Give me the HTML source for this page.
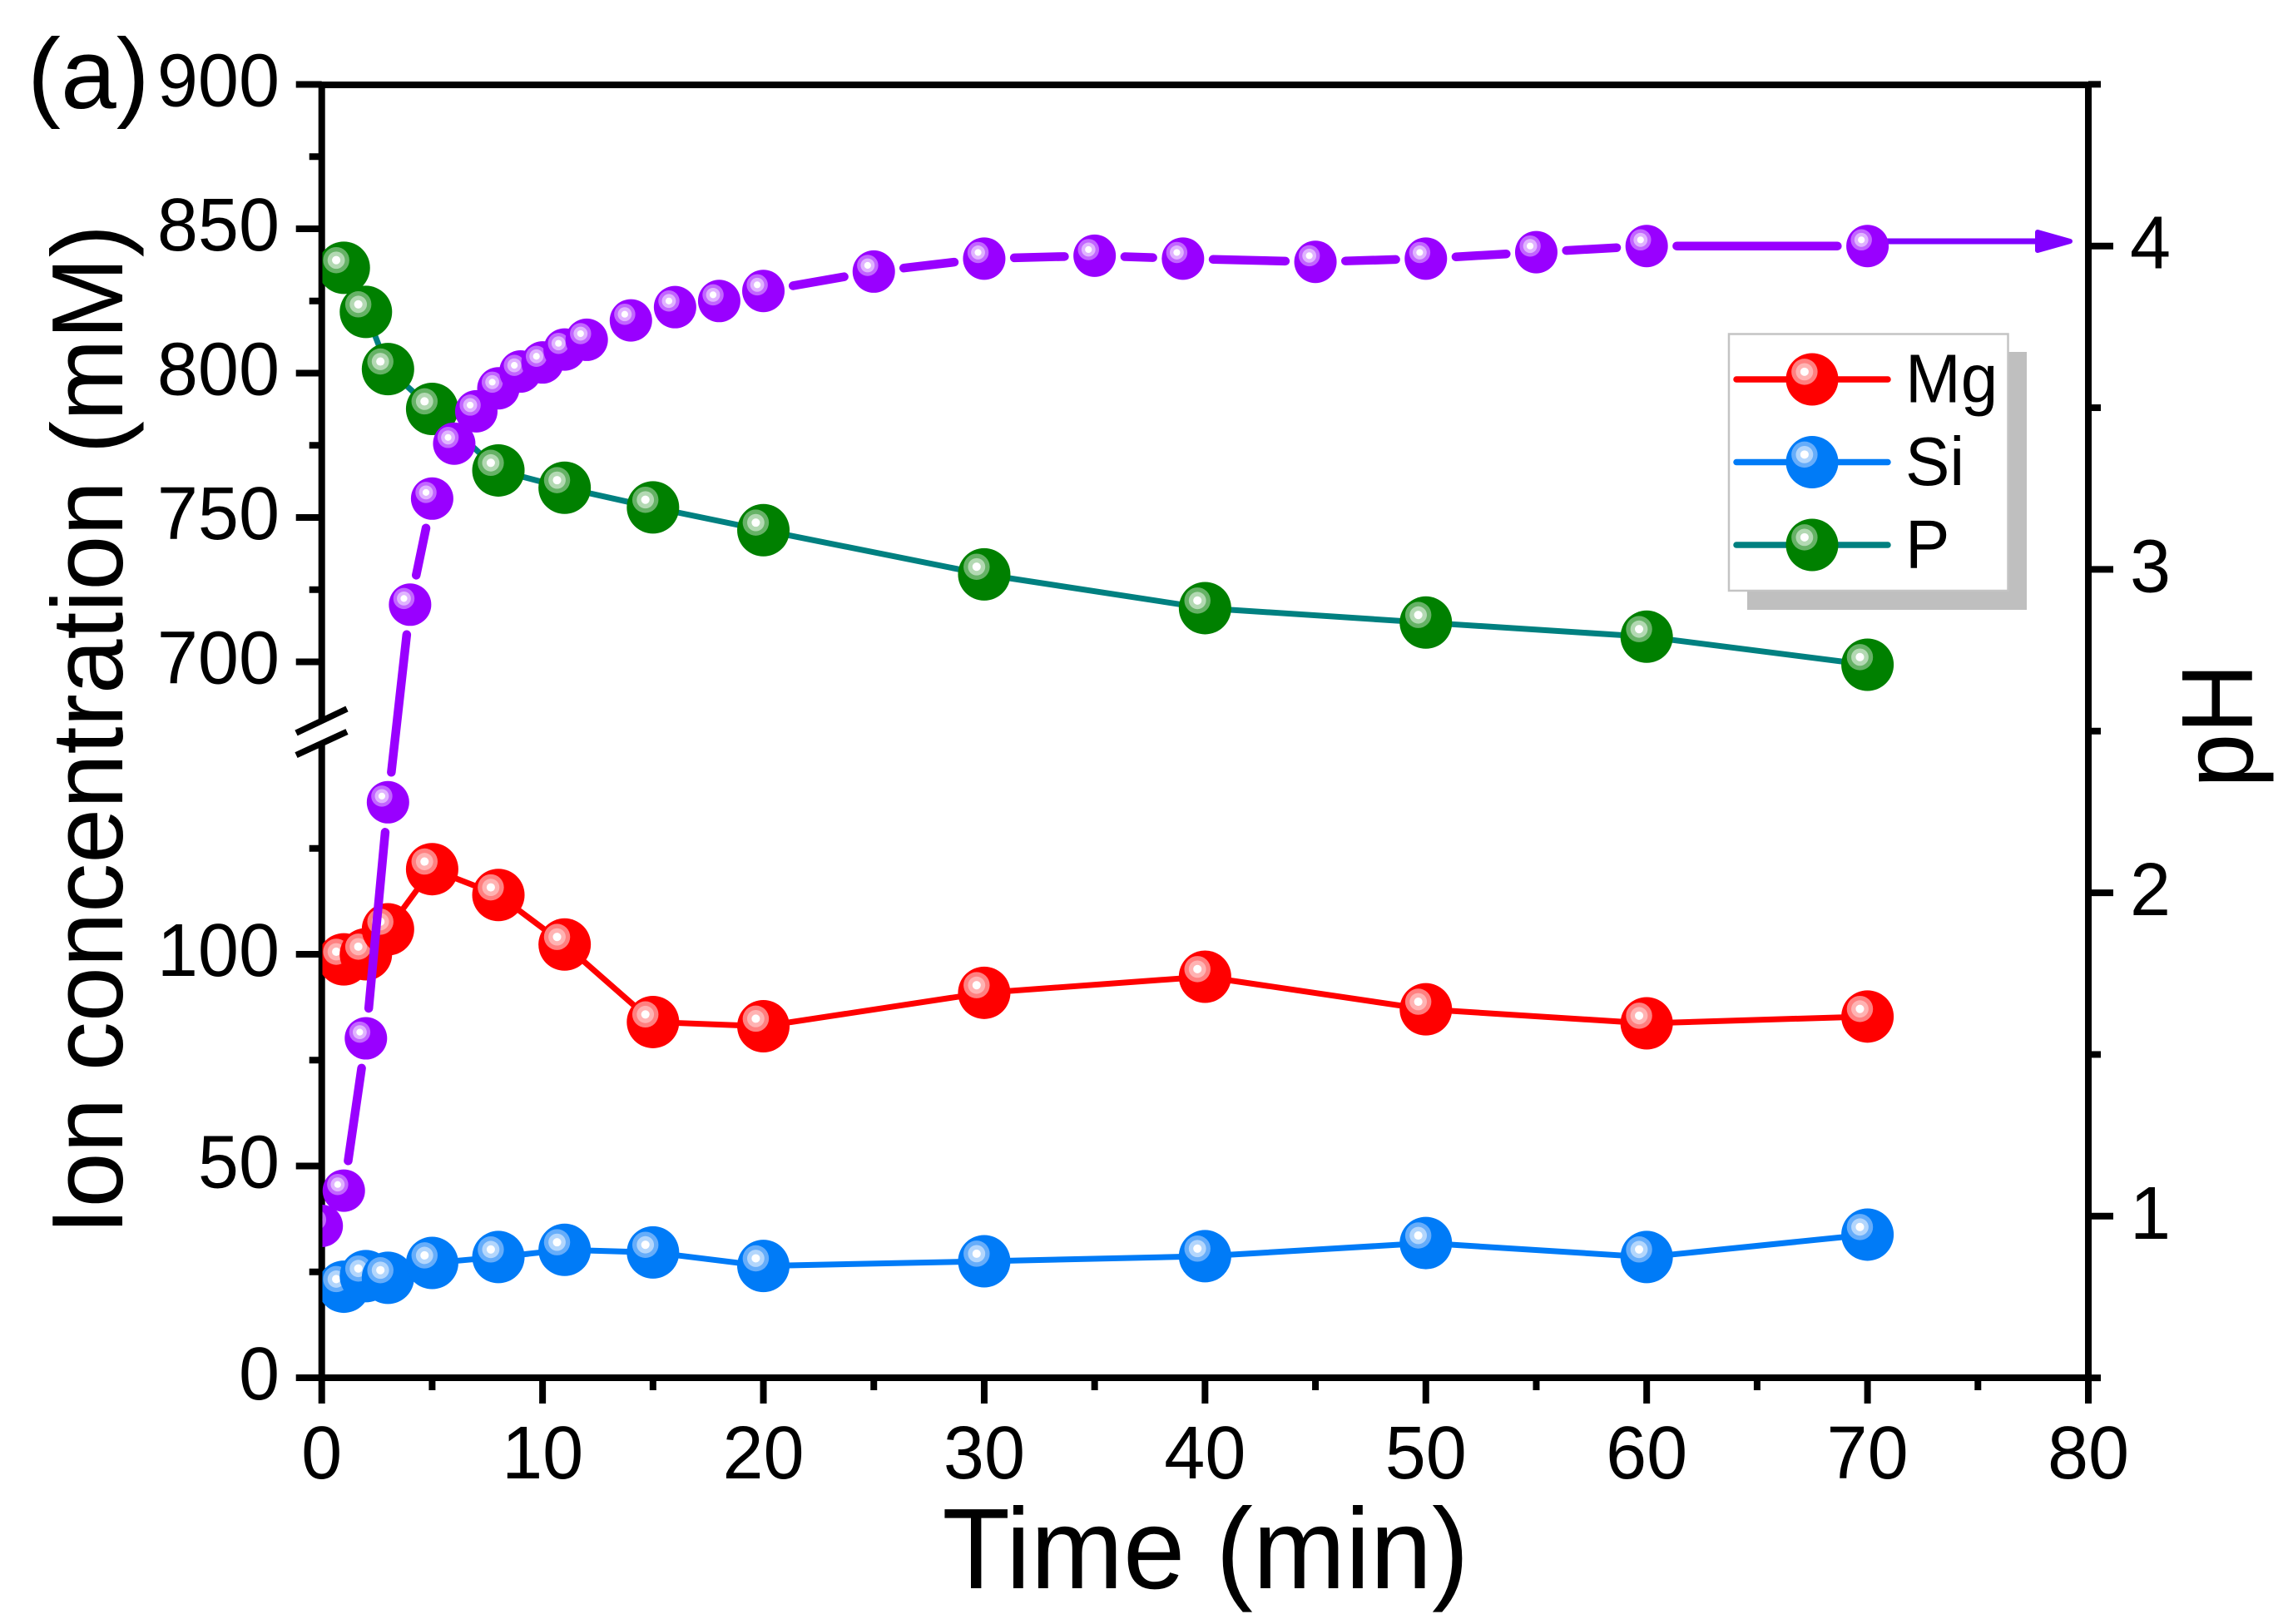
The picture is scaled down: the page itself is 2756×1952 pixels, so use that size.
<!DOCTYPE html>
<html lang="en">
<head>
<meta charset="utf-8">
<title>Ion concentration and pH versus time</title>
<style>
html,body{margin:0;padding:0;background:#fff;}
svg{display:block;}
text{font-family:"Liberation Sans",Arial,sans-serif;fill:#000;}
</style>
</head>
<body>
<svg id="chart" xmlns="http://www.w3.org/2000/svg" width="2756" height="1952" viewBox="0 0 2756 1952">
<rect x="0" y="0" width="2756" height="1952" fill="#fff"/>
<defs><clipPath id="plot-clip"><rect x="387.5" y="102" width="2122.5" height="1554"/></clipPath></defs>
<g id="axes"></g>
<g id="series" clip-path="url(#plot-clip)"></g>
<g id="labels"></g>
<text font-size="120" transform="translate(33,130)">(a)</text>
<text font-size="122" text-anchor="middle" transform="translate(147,877) rotate(-90) scale(0.968,1)">Ion concentration (mM)</text>
<text font-size="138" text-anchor="middle" transform="translate(1449,1909) scale(0.968,1)">Time (min)</text>
<text font-size="122" text-anchor="middle" transform="translate(2707,872) rotate(-90) scale(0.96,1)">pH</text>
<g id="legend">
<rect x="2100" y="423" width="336" height="310" fill="#bfbfbf"/>
<rect x="2078" y="401.5" width="335.5" height="308.5" fill="#fff" stroke="#c4c4c4" stroke-width="2.5"/>
</g>
</svg>
<script>
// ---- data ----
const ionTimes = [1, 2, 3, 5, 8, 11, 15, 20, 30, 40, 50, 60, 70];
const mgValues = [98.8, 100, 105.9, 120.1, 114, 102.3, 84, 83, 90.9, 94.7, 87, 83.7, 85.3];
const siValues = [21.5, 24, 23.6, 27.1, 28.5, 30.2, 29.6, 26.4, 27.5, 28.7, 31.8, 28.5, 33.8];
const pValues = [836.5, 821.2, 801.4, 787.6, 766.3, 760.3, 753.5, 745.6, 730.3, 718.6, 713.6, 708.7, 699];
const phTimes = [0, 1, 2, 3, 4, 5, 6, 7, 8, 9, 10, 11, 12, 14, 16, 18, 20, 25, 30, 35, 39, 45, 50, 55, 60, 70];
const phValues = [0.97, 1.079, 1.55, 2.28, 2.891, 3.219, 3.389, 3.489, 3.56, 3.612, 3.64, 3.68, 3.71, 3.77, 3.811, 3.83, 3.861, 3.921, 3.961, 3.97, 3.961, 3.951, 3.961, 3.981, 4.0, 4.0];
const xMajorTicks = [0, 10, 20, 30, 40, 50, 60, 70, 80];
const xMinorTicks = [5, 15, 25, 35, 45, 55, 65, 75];
const leftMajorTicks = [0, 50, 100, 700, 750, 800, 850, 900];
const leftMinorTicks = [25, 75, 125, 725, 775, 825, 875];
const rightMajorTicks = [1, 2, 3, 4];
const rightMinorTicks = [0.5, 1.5, 2.5, 3.5, 4.5];

const NS = 'http://www.w3.org/2000/svg';
const PLOT_L = 386.7, PLOT_R = 2510, PLOT_T = 102, PLOT_B = 1656;
const xScale = v => PLOT_L + v * (PLOT_R - PLOT_L) / 80;
const yLeft = v => v <= 300 ? PLOT_B - v * 5.09 : 795.5 + (700 - v) * 3.47;
const yRight = v => 295.7 + (4 - v) * 388.7;

function make(tag, attrs, parent) {
  const el = document.createElementNS(NS, tag);
  for (const k in attrs) el.setAttribute(k, attrs[k]);
  parent.appendChild(el);
  return el;
}
const axes = document.getElementById('axes');
const series = document.getElementById('series');
const labels = document.getElementById('labels');
const legend = document.getElementById('legend');

function axisLine(x1, y1, x2, y2, w, name) {
  const el = make('line', {x1: x1, y1: y1, x2: x2, y2: y2, stroke: '#000', 'stroke-width': w}, axes);
  
  
}
function label(text, x, y, anchor, name) {
  const el = make('text', {'font-size': 90, 'text-anchor': anchor, transform: 'translate(' + x + ',' + y + ') scale(0.98,1)'}, labels);
  el.textContent = text;
  
  
}

// axis frame
axisLine(PLOT_L, PLOT_T - 4, PLOT_L, 866.5, 8, 'left-axis-upper');
axisLine(PLOT_L, 893.5, PLOT_L, PLOT_B + 4, 8, 'left-axis-lower');
axisLine(356, 881, 417, 852, 7.5, 'axis-break-upper');
axisLine(356, 907.6, 417, 879.5, 7.5, 'axis-break-lower');
axisLine(PLOT_R, PLOT_T - 4, PLOT_R, PLOT_B + 4, 8, 'right-axis');
axisLine(PLOT_L, PLOT_T, PLOT_R, PLOT_T, 8, 'top-axis');
axisLine(PLOT_L, PLOT_B, PLOT_R, PLOT_B, 8, 'x-axis');

// x ticks
xMajorTicks.forEach(v => {
  axisLine(xScale(v), PLOT_B, xScale(v), PLOT_B + 31, 8, 'x-tick-' + v);
  label(String(v), xScale(v), 1777, 'middle', 'x-tick-label-' + v);
});
xMinorTicks.forEach(v => axisLine(xScale(v), PLOT_B, xScale(v), PLOT_B + 15, 8, 'x-minor-tick-' + v));

// left ticks
leftMajorTicks.forEach(v => {
  axisLine(PLOT_L - 31, yLeft(v), PLOT_L, yLeft(v), 8, 'y-tick-' + v);
  label(String(v), 336, yLeft(v) + 26, 'end', 'y-tick-label-' + v);
});
leftMinorTicks.forEach(v => axisLine(PLOT_L - 15, yLeft(v), PLOT_L, yLeft(v), 8, 'y-minor-tick-' + v));

// right ticks
rightMajorTicks.forEach(v => {
  axisLine(PLOT_R, yRight(v), PLOT_R + 30, yRight(v), 8, 'ph-tick-' + v);
  label(String(v), 2560, yRight(v) + 27, 'start', 'ph-tick-label-' + v);
});
rightMinorTicks.forEach(v => axisLine(PLOT_R, yRight(v), PLOT_R + 15, yRight(v), 8, 'ph-minor-tick-' + v));

// marker: a ball with a concentric offset highlight
function ball(parent, cx, cy, r, fill, rings, name) {
  const g = make('g', {}, parent);
  
  
  make('circle', {cx: cx, cy: cy, r: r, fill: fill}, g);
  const hx = cx - r * 0.29, hy = cy - r * 0.29;
  make('circle', {cx: hx, cy: hy, r: r * 0.5, fill: rings[0]}, g);
  make('circle', {cx: hx, cy: hy, r: r * 0.33, fill: rings[1]}, g);
  make('circle', {cx: hx, cy: hy, r: r * 0.16, fill: '#fff'}, g);
}
const RED_RINGS = ['#ff8080', '#ffb3b3'];
const BLUE_RINGS = ['#66adfa', '#b3d6fc'];
const GREEN_RINGS = ['#66b266', '#b3d9b3'];
const PURPLE_RINGS = ['#c266ff', '#e0b3ff'];

function drawSeries(xs, ys, yFn, lineColor, fill, rings, name) {
  const pts = xs.map((v, i) => xScale(v) + ',' + yFn(ys[i])).join(' ');
  const line = make('polyline', {points: pts, fill: 'none', stroke: lineColor, 'stroke-width': 7, 'stroke-linejoin': 'round'}, series);
  
  
  xs.forEach((v, i) => ball(series, xScale(v), yFn(ys[i]), 31.5, fill, rings, name + '-point-' + v));
}
drawSeries(ionTimes, mgValues, yLeft, '#ff0000', '#ff0000', RED_RINGS, 'mg');
drawSeries(ionTimes, siValues, yLeft, '#007bf7', '#007bf7', BLUE_RINGS, 'si');
drawSeries(ionTimes, pValues, yLeft, '#008080', '#008000', GREEN_RINGS, 'p');

// pH series: gapped line segments
const PH_GAP = 36.2;
phTimes.forEach((t, i) => {
  if (i === 0) return;
  const x0 = xScale(phTimes[i - 1]), y0 = yRight(phValues[i - 1]);
  const x1 = xScale(t), y1 = yRight(phValues[i]);
  const d = Math.hypot(x1 - x0, y1 - y0);
  if (d <= 2 * PH_GAP) return;
  const ux = (x1 - x0) / d, uy = (y1 - y0) / d;
  const seg = make('line', {x1: x0 + ux * PH_GAP, y1: y0 + uy * PH_GAP, x2: x1 - ux * PH_GAP, y2: y1 - uy * PH_GAP, stroke: '#9900ff', 'stroke-width': 10.5, 'stroke-linecap': 'round'}, series);
  
  
});

// arrow pointing to the pH axis
const lastPhX = xScale(phTimes[phTimes.length - 1]);
const arrowShaft = make('line', {x1: lastPhX, y1: 290, x2: 2450, y2: 290, stroke: '#8000ff', 'stroke-width': 7}, series);


const arrowHead = make('polygon', {points: '2449,279 2488,290 2449,301', fill: '#8000ff', stroke: '#8000ff', 'stroke-width': 6, 'stroke-linejoin': 'round'}, series);



phTimes.forEach((t, i) => ball(series, xScale(t), yRight(phValues[i]), 25.5, '#9900ff', PURPLE_RINGS, 'ph-point-' + t));

// legend entries
const legendNames = ['Mg', 'Si', 'P'];
const legendLineColors = ['#ff0000', '#007bf7', '#008080'];
const legendFills = ['#ff0000', '#007bf7', '#008000'];
const legendRings = [RED_RINGS, BLUE_RINGS, GREEN_RINGS];
legendNames.forEach((n, i) => {
  const cy = 456 + i * 99.5;
  const row = make('g', {}, legend);
  
  
  make('line', {x1: 2087, y1: cy, x2: 2269, y2: cy, stroke: legendLineColors[i], 'stroke-width': 7.5, 'stroke-linecap': 'round'}, row);
  ball(row, 2178, cy, 31.5, legendFills[i], legendRings[i], 'legend-marker-' + n.toLowerCase());
  const t = make('text', {'font-size': 83, transform: 'translate(2290,' + (cy + 27.5) + ') scale(0.965,1)'}, row);
  t.textContent = n;
  
  
});
</script>
</body>
</html>
